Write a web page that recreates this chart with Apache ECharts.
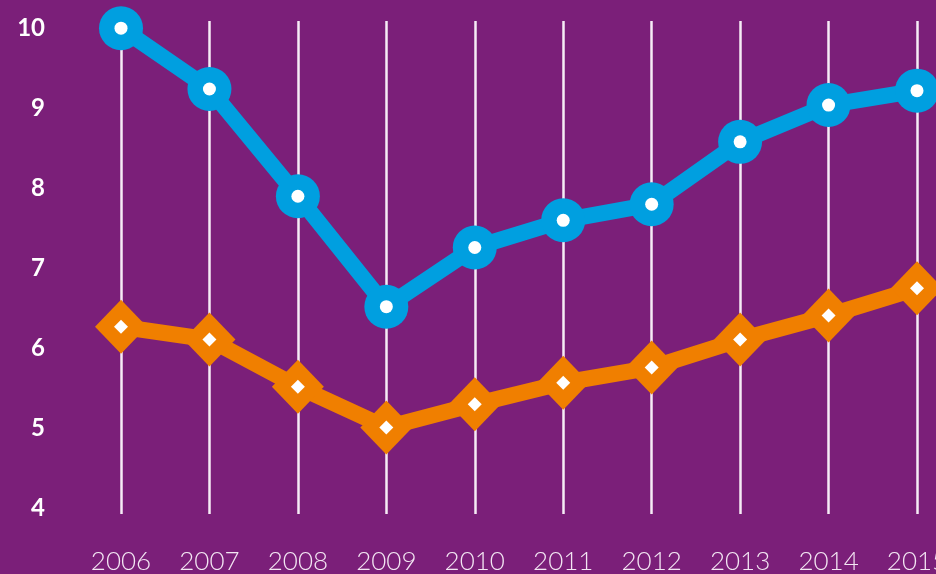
<!DOCTYPE html>
<html>
<head>
<meta charset="utf-8">
<script src="https://cdn.jsdelivr.net/npm/echarts@6/dist/echarts.min.js"></script>
<style>
  html, body { margin: 0; padding: 0; background: #7b1f79; }
  #chart { width: 936px; height: 574px; }
</style>
</head>
<body>
<div id="chart"></div>
<script>
// years and the two series
var years = ['2006', '2007', '2008', '2009', '2010', '2011', '2012', '2013', '2014', '2015'];
var blueValues = [10.0, 9.24, 7.9, 6.52, 7.26, 7.6, 7.8, 8.58, 9.04, 9.22];
var orangeValues = [6.27, 6.11, 5.52, 5.01, 5.3, 5.57, 5.76, 6.11, 6.41, 6.75];
var yTicks = [4, 5, 6, 7, 8, 9, 10];

var chart = echarts.init(document.getElementById('chart'));

var option = {
  backgroundColor: '#7b1f79',
  animation: false,
  grid: { left: 121, right: 19, top: 21, bottom: 60, outerBoundsMode: 'none', containLabel: false },
  xAxis: {
    type: 'category',
    data: years,
    boundaryGap: false,
    axisLine: { show: false },
    axisTick: { show: false },
    axisLabel: {
      margin: 35,
      color: '#f3e6f3',
      fontFamily: 'Lato',
      fontWeight: 300,
      fontSize: 26,
      hideOverlap: false
    },
    splitLine: { show: true, lineStyle: { color: '#f6ecf6', width: 2.5 } }
  },
  yAxis: {
    type: 'value',
    // a little padding so the white grid lines run just past 4 and 10
    min: 3.93,
    max: 10.09,
    interval: 1,
    axisLine: { show: false },
    axisTick: { show: false },
    splitLine: { show: false },
    axisLabel: {
      margin: 76,
      color: '#ffffff',
      fontFamily: 'Lato',
      fontWeight: 'bold',
      fontSize: 24,
      customValues: yTicks
    }
  },
  series: [
    {
      name: 'orange',
      type: 'line',
      data: orangeValues,
      symbol: 'diamond',
      symbolSize: [52, 54],
      itemStyle: { color: '#f07f00' },
      lineStyle: { color: '#f07f00', width: 16 },
      z: 2
    },
    {
      name: 'orange-dot',
      type: 'line',
      data: orangeValues,
      symbol: 'diamond',
      symbolSize: 14,
      itemStyle: { color: '#ffffff' },
      lineStyle: { opacity: 0 },
      z: 3
    },
    {
      name: 'blue',
      type: 'line',
      data: blueValues,
      symbol: 'circle',
      symbolSize: 44,
      itemStyle: { color: '#009fe0' },
      lineStyle: { color: '#009fe0', width: 16 },
      z: 4
    },
    {
      name: 'blue-dot',
      type: 'line',
      data: blueValues,
      symbol: 'circle',
      symbolSize: 13,
      itemStyle: { color: '#ffffff' },
      lineStyle: { opacity: 0 },
      z: 5
    }
  ]
};

chart.setOption(option);
</script>
</body>
</html>
